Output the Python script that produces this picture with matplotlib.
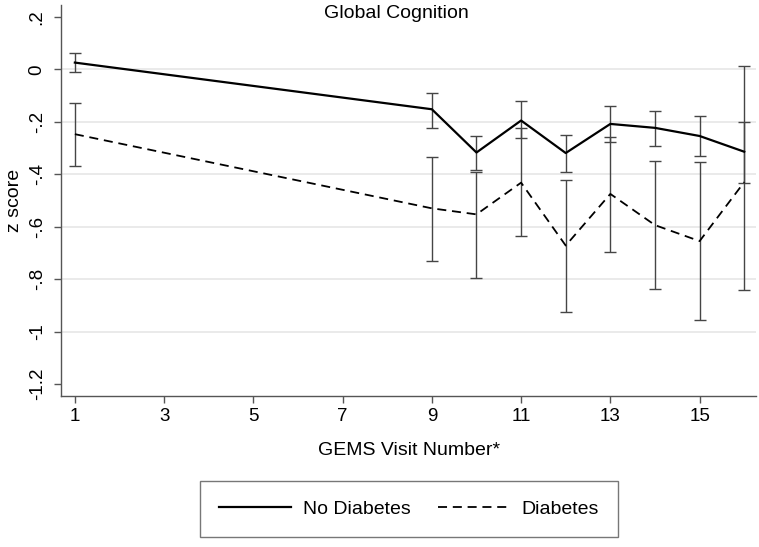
import matplotlib
matplotlib.use("Agg")
import matplotlib.pyplot as plt
from matplotlib.lines import Line2D

plt.rcParams['font.family'] = ['Liberation Sans', 'DejaVu Sans']

# visits
visits = [1, 9, 10, 11, 12, 13, 14, 15, 16]

# No Diabetes: mean z score and CI
nodm_mean = [0.026, -0.152, -0.317, -0.195, -0.319, -0.208, -0.223, -0.254, -0.314]
nodm_lo = [-0.011, -0.222, -0.385, -0.263, -0.390, -0.276, -0.292, -0.330, -0.432]
nodm_hi = [0.064, -0.090, -0.254, -0.120, -0.250, -0.138, -0.158, -0.177, 0.013]

# Diabetes
dm_mean = [-0.247, -0.530, -0.553, -0.432, -0.672, -0.475, -0.594, -0.655, -0.430]
dm_lo = [-0.367, -0.730, -0.795, -0.637, -0.924, -0.695, -0.838, -0.955, -0.842]
dm_hi = [-0.127, -0.335, -0.390, -0.225, -0.422, -0.256, -0.348, -0.353, -0.200]

xticks = [1, 3, 5, 7, 9, 11, 13, 15]
yticks = [0.2, 0, -0.2, -0.4, -0.6, -0.8, -1.0, -1.2]
ytick_labels = ['.2', '0', '-.2', '-.4', '-.6', '-.8', '-1', '-1.2']

fig = plt.figure(figsize=(7.59, 5.47), dpi=100)
ax = fig.add_axes([0.0804, 0.276, 0.916, 0.715])

for y in [0, -0.2, -0.4, -0.6, -0.8, -1.0]:
    ax.axhline(y, color='#e6e6e6', lw=1.2, zorder=0)

err_col = '#454545'
ax.errorbar(visits, nodm_mean,
            yerr=[[m - l for m, l in zip(nodm_mean, nodm_lo)],
                  [h - m for m, h in zip(nodm_mean, nodm_hi)]],
            fmt='none', ecolor=err_col, elinewidth=1.0, capsize=4, capthick=1.0, zorder=2)
ax.errorbar(visits, dm_mean,
            yerr=[[m - l for m, l in zip(dm_mean, dm_lo)],
                  [h - m for m, h in zip(dm_mean, dm_hi)]],
            fmt='none', ecolor=err_col, elinewidth=1.0, capsize=4, capthick=1.0, zorder=2)

ax.plot(visits, nodm_mean, color='black', lw=1.6, zorder=3)
ax.plot(visits, dm_mean, color='black', lw=1.3, dashes=(5, 3.2), zorder=3)

ax.set_xlim(0.69, 16.27)
ax.set_ylim(-1.246, 0.246)
ax.set_xticks(xticks)
ax.set_yticks(yticks)
ax.set_yticklabels(ytick_labels, rotation=90, va='center')
ax.tick_params(axis='both', labelsize=13.5, color='#555555', length=5, width=1)
ax.tick_params(axis='y', pad=6)
for s in ['top', 'right']:
    ax.spines[s].set_visible(False)
for s in ['left', 'bottom']:
    ax.spines[s].set_color('#555555')
    ax.spines[s].set_linewidth(1.0)

ax.set_ylabel('z score', fontsize=14, labelpad=4)
ax.set_xlabel('GEMS Visit Number*', fontsize=14, labelpad=12)

fig.text(396 / 759, 1 - 13 / 547, 'Global Cognition', fontsize=14,
         ha='center', va='center')

handles = [Line2D([], [], color='black', lw=1.6),
           Line2D([], [], color='black', lw=1.3, dashes=(5, 3.2))]
leg = fig.legend(handles, ['No Diabetes', 'Diabetes'], ncol=2,
                 loc='center', bbox_to_anchor=(409 / 759, 1 - 509 / 547),
                 fontsize=14, frameon=True, fancybox=False, handlelength=3.7,
                 handletextpad=0.6, columnspacing=1.4, borderpad=1.0,
                 borderaxespad=0)
leg.get_frame().set_edgecolor('#555555')
leg.get_frame().set_linewidth(1.0)

fig.savefig('out.png', dpi=100)
